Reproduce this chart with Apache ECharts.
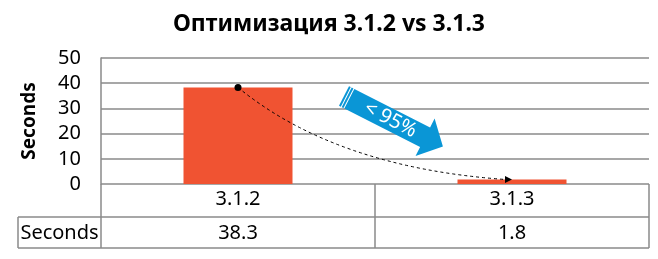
<!DOCTYPE html>
<html>
<head>
<meta charset="utf-8">
<script src="https://cdn.jsdelivr.net/npm/echarts@6/dist/echarts.min.js"></script>
<style>html,body{margin:0;padding:0;background:#fff;}#c{width:658px;height:259px;}</style>
</head>
<body>
<div id="c"></div>
<script>
var titleText = 'Оптимизация 3.1.2 vs 3.1.3';
var categories = ['3.1.2', '3.1.3'];
var seriesName = 'Seconds';
var seconds = [38.3, 1.8];
var yTicks = [0, 10, 20, 30, 40, 50];
var arrowLabel = '< 95%';

var FONT = 'Noto Sans';
var GRAY = '#8a8a8a';
var BAR = '#F05332';
var BLUE = '#0A96D6';

var chart = echarts.init(document.getElementById('c'), null, {renderer: 'canvas'});
chart.setOption({
  animation: false,
  title: {
    text: titleText, left: 'center', top: 8,
    textStyle: {fontFamily: FONT, fontWeight: 'bold', fontSize: 23, color: '#000'}
  },
  grid: {left: 101, right: 9, top: 58, bottom: 75, containLabel: false},
  xAxis: {
    type: 'category', data: categories, boundaryGap: true,
    axisLine: {show: false},
    axisTick: {show: true, length: 64, alignWithLabel: false, lineStyle: {color: GRAY, width: 1.5}},
    axisLabel: {margin: 5, fontFamily: FONT, fontSize: 20, color: '#000'}
  },
  yAxis: {
    type: 'value', min: yTicks[0], max: yTicks[yTicks.length - 1], interval: 10,
    name: seriesName, nameLocation: 'middle', nameGap: 62, nameRotate: 90,
    nameTextStyle: {fontFamily: FONT, fontWeight: 'bold', fontSize: 19, color: '#000'},
    axisLine: {show: true, lineStyle: {color: GRAY, width: 1.5}},
    axisTick: {show: false},
    splitLine: {lineStyle: {color: GRAY, width: 1.5}},
    axisLabel: {margin: 20, fontFamily: FONT, fontSize: 20, color: '#000'}
  },
  series: [{
    type: 'bar', name: seriesName, data: seconds, barWidth: 109,
    itemStyle: {color: BAR}
  }]
});

function drawExtras() {
  var y0 = chart.convertToPixel({yAxisIndex: 0}, 0);
  var rowH1 = 33, rowH2 = 31;
  var xL = 18, xA = 101, xR = 649;
  var r1 = y0 + rowH1, r2 = r1 + rowH2;
  var els = [];
  var ln = function (x1, y1, x2, y2) {
    return {type: 'line', z: 50, shape: {x1: x1, y1: y1, x2: x2, y2: y2}, style: {stroke: GRAY, lineWidth: 1.5}, silent: true};
  };
  els.push(ln(xL, r1, xR, r1));
  els.push(ln(xL, r2, xR, r2));
  els.push(ln(xL, r1, xL, r2));
  els.push({type: 'text', z: 50, x: (xL + xA) / 2, y: (r1 + r2) / 2 + 1,
    style: {text: seriesName, fontFamily: FONT, fontSize: 20, fill: '#000', align: 'center', verticalAlign: 'middle'}});
  categories.forEach(function (c, i) {
    var px = chart.convertToPixel({xAxisIndex: 0}, c);
    els.push({type: 'text', z: 50, x: px, y: (r1 + r2) / 2 + 1,
      style: {text: String(seconds[i]), fontFamily: FONT, fontSize: 20, fill: '#000', align: 'center', verticalAlign: 'middle'}});
  });
  // dashed curve from bar 1 top to bar 2 top
  var p0 = chart.convertToPixel({xAxisIndex: 0, yAxisIndex: 0}, [categories[0], seconds[0]]);
  var p1 = chart.convertToPixel({xAxisIndex: 0, yAxisIndex: 0}, [categories[1], seconds[1]]);
  var endX = p1[0] - 7, endY = p1[1];
  els.push({type: 'bezierCurve', z: 100, shape: {x1: p0[0], y1: p0[1], x2: endX, y2: endY, cpx1: p0[0] + 98, cpy1: p0[1] + 80},
    style: {stroke: '#000', lineWidth: 1, lineDash: [3, 3], fill: null}, silent: true});
  els.push({type: 'circle', z: 100, shape: {cx: p0[0], cy: p0[1], r: 3.5}, style: {fill: '#000'}});
  els.push({type: 'polygon', z: 100, shape: {points: [[p1[0], p1[1]], [endX, p1[1] - 3.5], [endX, p1[1] + 3.5]]}, style: {fill: '#000'}});
  // blue arrow
  var hw = 11, HW = 21, L = 111, HL = 20;
  els.push({type: 'group', z: 100, x: 344, y: 96, rotation: -27 * Math.PI / 180, children: [
    {type: 'rect', z: 100, shape: {x: 0, y: -hw, width: 2, height: 2 * hw}, style: {fill: BLUE}},
    {type: 'rect', z: 100, shape: {x: 3, y: -hw, width: 2, height: 2 * hw}, style: {fill: BLUE}},
    {type: 'polygon', z: 100, shape: {points: [[6, -hw], [L - HL, -hw], [L - HL, -HW], [L, 0], [L - HL, HW], [L - HL, hw], [6, hw]]}, style: {fill: BLUE}},
    {type: 'text', z: 101, x: 52, y: 0, style: {text: arrowLabel, fontFamily: FONT, fontSize: 20, fill: '#fff', align: 'center', verticalAlign: 'middle'}}
  ]});
  chart.setOption({graphic: {elements: els}});
}
drawExtras();
</script>
</body>
</html>
